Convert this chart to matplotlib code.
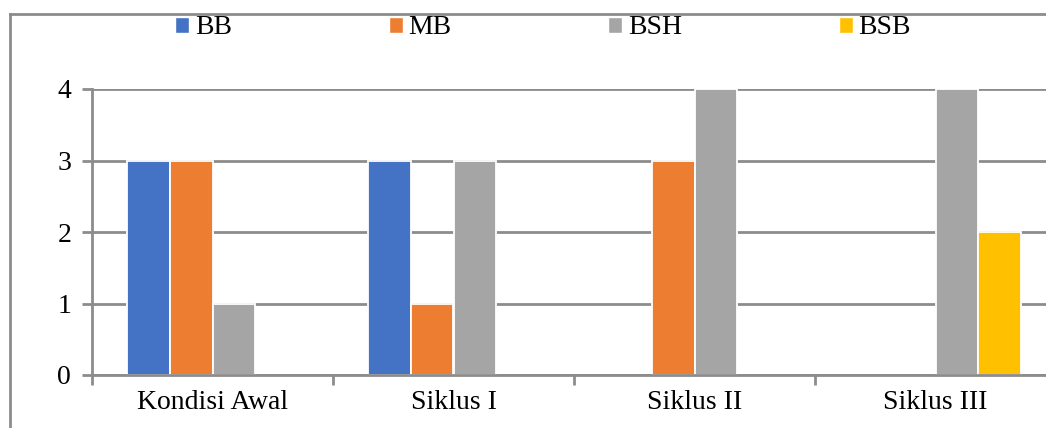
import numpy as np
import matplotlib.pyplot as plt
from matplotlib.patches import Patch
from matplotlib.lines import Line2D

plt.rcParams['font.family'] = ['Liberation Serif', 'DejaVu Serif']

categories = ['Kondisi Awal', 'Siklus I', 'Siklus II', 'Siklus III']
series = ['BB', 'MB', 'BSH', 'BSB']
bb = [3, 3, 0, 0]
mb = [3, 1, 3, 0]
bsh = [1, 3, 4, 4]
bsb = [0, 0, 0, 2]
colors = ['#4472C4', '#ED7D31', '#A5A5A5', '#FFC000']

grey = '#8C8C8C'
fs = 20

fig = plt.figure(figsize=(10.46, 4.28), dpi=100)
# axes runs past the right edge of the figure, like a cropped chart
ax = fig.add_axes([92/1046, 53/428, 964/1046, 286/428])

x = np.arange(len(categories))
w = 0.178
for i, (vals, c) in enumerate(zip([bb, mb, bsh, bsb], colors)):
    vals = np.array(vals)
    keep = vals > 0  # empty categories get no bar at all
    ax.bar(x[keep] + (i - 1.5)*w, vals[keep], w, color=c, edgecolor='white',
           linewidth=1.3, zorder=3)

ax.set_xlim(-0.5, len(categories) - 0.5)
ax.set_ylim(0, 4)
ax.set_yticks([0, 1, 2, 3, 4])
ax.set_xticks(x)
ax.set_xticklabels(categories)
ax.set_xticks(np.arange(-0.5, len(categories)), minor=True)
ax.tick_params(axis='x', which='major', length=0, pad=11, labelsize=fs)
ax.tick_params(axis='x', which='minor', length=7, width=2, color=grey)
ax.tick_params(axis='y', length=7, width=2, color=grey, pad=8, labelsize=fs)
ax.grid(axis='y', color=grey, linewidth=2, zorder=1)
ax.set_axisbelow(True)
for s in ['top', 'right']:
    ax.spines[s].set_visible(False)
for s in ['left', 'bottom']:
    ax.spines[s].set_color(grey)
    ax.spines[s].set_linewidth(2)
    ax.spines[s].set_zorder(4)

# chart border (left and top edges)
fig.add_artist(Line2D([10/1046, 10/1046], [-0.1, 1 - 14/428], color=grey, lw=2,
                      transform=fig.transFigure))
fig.add_artist(Line2D([10/1046, 1.1], [1 - 14/428, 1 - 14/428], color=grey, lw=2,
                      transform=fig.transFigure))

handles = [Patch(facecolor=c, edgecolor='white') for c in colors]
fig.legend(handles, series, loc='center', bbox_to_anchor=(543/1046, 1 - 28/428),
           ncol=4, frameon=False, fontsize=fs, handlelength=0.5, handleheight=0.5,
           handletextpad=0.2, columnspacing=5.65, borderpad=0)

fig.savefig('out.png', dpi=100)
